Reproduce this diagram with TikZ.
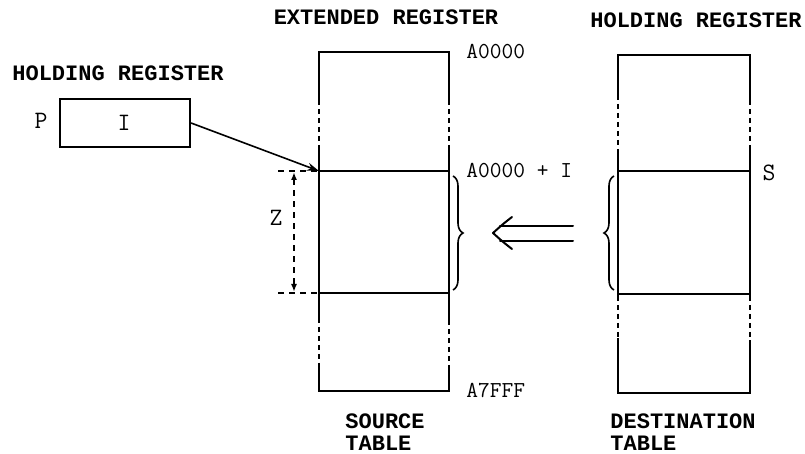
\documentclass[tikz,border=0pt]{standalone}
\usepackage{fontspec}
\newfontfamily\headfont{Liberation Mono}
\usetikzlibrary{arrows.meta,decorations.pathreplacing}
\begin{document}
\begin{tikzpicture}[x=0.5pt,y=-0.5pt,
  heading/.style={font=\headfont\bfseries\fontsize{11}{11}\selectfont, inner sep=0pt},
  addr/.style={font=\ttfamily\fontsize{11.4}{10}\selectfont, inner sep=0pt, anchor=west},
  letter/.style={font=\ttfamily\fontsize{12.5}{10}\selectfont, inner sep=0pt},
  solidline/.style={line width=1.1pt},
  dotside/.style={line width=1.1pt, dash pattern=on 2.5pt off 2pt},
  dimline/.style={line width=0.8pt, dash pattern=on 3pt off 2.5pt},
  thin arrow/.style={line width=0.8pt, -{Stealth[length=6pt,width=4pt]}},
  transfer/.style={line width=1pt, line cap=round, line join=round},
  bracestyle/.style={line width=0.8pt, decorate, decoration={brace, amplitude=5pt}}]
\useasboundingbox (0,0) rectangle (805,454);

% ---------- left holding register ----------
\node[heading] (hrl) at (118,73) {HOLDING REGISTER};
\node[draw, line width=1.1pt, minimum width=65pt, minimum height=24pt, inner sep=0pt] (preg) at (125,123) {};
\node[letter] (ilab) at (124,123) {I};
\node[letter] (plab) at (41,121) {P};

% ---------- source table ----------
\node[heading] (ext) at (386,17) {EXTENDED REGISTER};
\coordinate (sTL) at (319,52);
\coordinate (sTR) at (449,52);
\coordinate (sBL) at (319,391);
\coordinate (sBR) at (449,391);
\coordinate (sML) at (319,171);
\coordinate (sMR) at (449,171);
\coordinate (sNL) at (319,293);
\coordinate (sNR) at (449,293);
\draw[solidline] (319,100) -- (sTL) -- (sTR) -- (449,100);
\draw[dotside] (319,100) -- (319,150);
\draw[dotside] (449,100) -- (449,150);
\draw[solidline] (319,150) -- (319,318);
\draw[solidline] (449,150) -- (449,320);
\draw[dotside] (319,318) -- (319,363);
\draw[dotside] (449,320) -- (449,368);
\draw[solidline] (319,363) -- (sBL) -- (sBR) -- (449,368);
\draw[solidline] (sML) -- (sMR);
\draw[solidline] (sNL) -- (sNR);

\node[addr] (a0) at (466,52) {A0000};
\node[addr] (a0i) at (466,171) {A0000 + I};
\node[addr] (a7) at (466,391) {A7FFF};

\node[heading, align=left, anchor=north west] (src) at (345,413) {SOURCE\\TABLE};

% pointer arrow
\draw[thin arrow] (preg.east) -- (sML);

% Z dimension
\coordinate (zt) at (278,171);
\coordinate (zb) at (278,293);
\draw[dimline] (zt) -- (sML);
\draw[dimline] (zb) -- (sNL);
\draw[dimline, {Latex[length=4pt,width=3pt]}-{Latex[length=4pt,width=3pt]}] (294,172) -- (294,292);
\node[letter] (zlab) at (276,218) {Z};

% brace source
\draw[bracestyle] (453,176) -- (453,290);

% transfer double arrow
\coordinate (dtip) at (493,233);
\draw[transfer] (573,226) -- (500,226);
\draw[transfer] (573,241) -- (500,241);
\draw[transfer] (512,217) .. controls (503,224) .. (dtip) .. controls (503,242) .. (512,249);

% ---------- destination table ----------
\node[heading] (hrr) at (696,20) {HOLDING REGISTER};
\coordinate (dTL) at (618,55);
\coordinate (dTR) at (750,55);
\coordinate (dBL) at (618,393);
\coordinate (dBR) at (750,393);
\coordinate (dML) at (618,171);
\coordinate (dMR) at (750,171);
\coordinate (dNL) at (618,294);
\coordinate (dNR) at (750,294);
\draw[solidline] (618,95) -- (dTL) -- (dTR) -- (750,100);
\draw[dotside] (618,95) -- (618,150);
\draw[dotside] (750,100) -- (750,150);
\draw[solidline] (618,150) -- (618,296);
\draw[solidline] (750,150) -- (750,296);
\draw[dotside] (618,296) -- (618,338);
\draw[dotside] (750,296) -- (750,340);
\draw[solidline] (618,338) -- (dBL) -- (dBR) -- (750,340);
\draw[solidline] (dML) -- (dMR);
\draw[solidline] (dNL) -- (dNR);

\node[letter] (slab) at (769,173) {S};
\draw[bracestyle] (614,290) -- (614,176);

\node[heading, align=left, anchor=north west] (dst) at (610,413) {DESTINATION\\TABLE};
\end{tikzpicture}
\end{document}
